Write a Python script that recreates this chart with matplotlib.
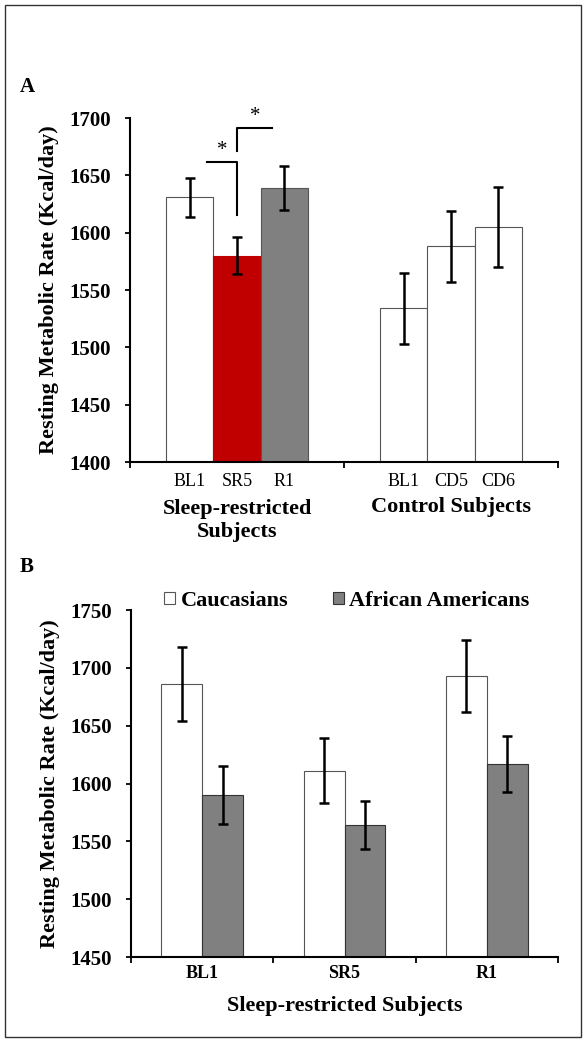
import numpy as np
import matplotlib
matplotlib.use("Agg")
import matplotlib.pyplot as plt
from matplotlib.patches import Rectangle

plt.rcParams['font.family'] = ['Liberation Serif', 'DejaVu Serif']

# ---- data ----
# panel A
a_groups = ['Sleep-restricted\nSubjects', 'Control Subjects']
a_labels_sr = ['BL1', 'SR5', 'R1']
a_vals_sr = [1631, 1580, 1639]
a_err_sr = [17, 16, 19]
a_labels_ctl = ['BL1', 'CD5', 'CD6']
a_vals_ctl = [1534, 1588, 1605]
a_err_ctl = [31, 31, 35]

# panel B
b_days = ['BL1', 'SR5', 'R1']
b_cauc = [1686, 1611, 1693]
b_cauc_err = [32, 28, 31]
b_afam = [1590, 1564, 1617]
b_afam_err = [25, 21, 24]

W, H = 587, 1043
fig = plt.figure(figsize=(W / 100, H / 100), dpi=100)


def px_axes(x0, y0, x1, y1):
    return fig.add_axes([x0 / W, 1 - y1 / H, (x1 - x0) / W, (y1 - y0) / H])


def style(ax):
    for s in ['top', 'right']:
        ax.spines[s].set_visible(False)
    for s in ['left', 'bottom']:
        ax.spines[s].set_linewidth(1.5)
    ax.tick_params(axis='y', direction='out', length=3.8, width=1.3, labelsize=15, pad=10)
    ax.tick_params(axis='x', direction='out', length=4, width=1.3, labelbottom=False)
    for t in ax.get_yticklabels():
        t.set_fontweight('bold')


ekw = dict(ecolor='black', elinewidth=1.8, capsize=3.5, capthick=1.8)

# ---- panel A ----
axA = px_axes(130, 118, 558, 462)
w = 0.22
sr_colors = ['white', '#C00000', '#808080']
for i in range(3):
    axA.bar(0 + (i - 1) * w, a_vals_sr[i], width=w, color=sr_colors[i],
            edgecolor='#555555' if i != 1 else '#C00000', linewidth=0.8,
            yerr=a_err_sr[i], error_kw=ekw, zorder=2)
    axA.bar(1 + (i - 1) * w, a_vals_ctl[i], width=w, color='white',
            edgecolor='#555555', linewidth=0.8,
            yerr=a_err_ctl[i], error_kw=ekw, zorder=2)
axA.set_xlim(-0.5, 1.5)
axA.set_ylim(1400, 1700)
axA.set_yticks(np.arange(1400, 1701, 50))
axA.set_xticks([-0.5, 0.5, 1.5])
style(axA)
for g, labs in enumerate([a_labels_sr, a_labels_ctl]):
    for i, lab in enumerate(labs):
        axA.text(g + (i - 1) * w, -0.058, lab, transform=axA.get_xaxis_transform(),
                 ha='center', va='center', fontsize=13)
axA.text(0, -0.17, a_groups[0], transform=axA.get_xaxis_transform(),
         ha='center', va='center', fontsize=16, fontweight='bold', linespacing=1.2)
axA.text(1, -0.131, a_groups[1], transform=axA.get_xaxis_transform(),
         ha='center', va='center', fontsize=16, fontweight='bold')
axA.set_ylabel('Resting Metabolic Rate (Kcal/day)', fontsize=16, fontweight='bold', labelpad=7)

# significance brackets
axA.plot([-0.14, 0.0, 0.0], [1662, 1662, 1615], color='black', lw=1.5, clip_on=False)
axA.plot([0.0, 0.0, 0.165], [1671, 1691, 1691], color='black', lw=1.5, clip_on=False)
axA.text(-0.07, 1672, '*', ha='center', va='center', fontsize=15, clip_on=False)
axA.text(0.085, 1701, '*', ha='center', va='center', fontsize=15, clip_on=False)

# ---- panel B ----
axB = px_axes(131, 610, 558, 957)
wb = 0.288
x = np.arange(len(b_days))
axB.bar(x - wb / 2, b_cauc, width=wb, color='white', edgecolor='#555555', linewidth=0.8,
        yerr=b_cauc_err, error_kw=ekw, label='Caucasians', zorder=2)
axB.bar(x + wb / 2, b_afam, width=wb, color='#808080', edgecolor='#333333', linewidth=0.8,
        yerr=b_afam_err, error_kw=ekw, label='African Americans', zorder=2)
axB.set_xlim(-0.5, 2.5)
axB.set_ylim(1450, 1750)
axB.set_yticks(np.arange(1450, 1751, 50))
axB.set_xticks([-0.5, 0.5, 1.5, 2.5])
style(axB)
for i, lab in enumerate(b_days):
    axB.text(i, -0.047, lab, transform=axB.get_xaxis_transform(),
             ha='center', va='center', fontsize=13, fontweight='bold')
axB.text(0.5, -0.14, 'Sleep-restricted Subjects', transform=axB.transAxes,
         ha='center', va='center', fontsize=16, fontweight='bold')
axB.set_ylabel('Resting Metabolic Rate (Kcal/day)', fontsize=16, fontweight='bold', labelpad=7)
axB.legend(loc='lower center', bbox_to_anchor=(0.505, 0.972), ncol=2, frameon=False,
           prop={'size': 16, 'weight': 'bold'}, handlelength=0.5, handleheight=0.5,
           handletextpad=0.25, columnspacing=2.0, borderaxespad=0)

# panel letters
fig.text(20 / W, 1 - 87 / H, 'A', fontsize=15, fontweight='bold', va='center', ha='left')
fig.text(20 / W, 1 - 567 / H, 'B', fontsize=15, fontweight='bold', va='center', ha='left')

# outer frame
fig.patches.append(Rectangle((5 / W, 1 - 1037 / H), 576 / W, 1032 / H, transform=fig.transFigure,
                             fill=False, edgecolor='#333333', linewidth=1.0))

fig.savefig('out.png', dpi=100)
